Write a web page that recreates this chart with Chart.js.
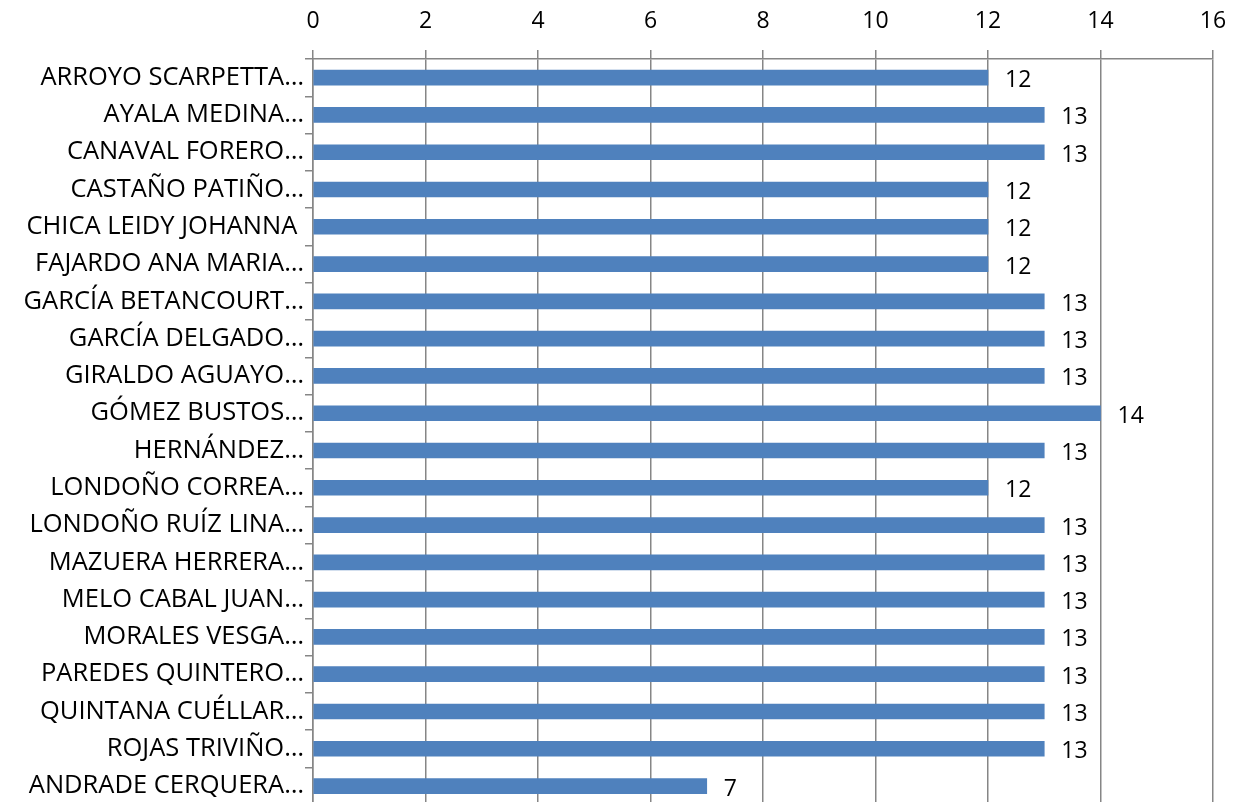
<!DOCTYPE html>
<html>
<head>
<meta charset="utf-8">
<script src="https://cdn.jsdelivr.net/npm/chart.js@4/dist/chart.umd.min.js"></script>
<style>
  html, body { margin: 0; padding: 0; background: #fff; overflow: hidden; }
  #wrap { position: relative; width: 1235px; height: 821px; }
</style>
</head>
<body>
<div id="wrap"><canvas id="chart"></canvas></div>
<script>
// names as shown (truncated like the original)
const names = [
  "ARROYO SCARPETTA…", "AYALA MEDINA…", "CANAVAL FORERO…", "CASTAÑO PATIÑO…",
  "CHICA LEIDY JOHANNA ", "FAJARDO ANA MARIA…", "GARCÍA BETANCOURT…", "GARCÍA DELGADO…",
  "GIRALDO AGUAYO…", "GÓMEZ BUSTOS…", "HERNÁNDEZ…", "LONDOÑO CORREA…",
  "LONDOÑO RUÍZ LINA…", "MAZUERA HERRERA…", "MELO CABAL JUAN…", "MORALES VESGA…",
  "PAREDES QUINTERO…", "QUINTANA CUÉLLAR…", "ROJAS TRIVIÑO…", "ANDRADE CERQUERA…"
];
const scores = [12, 13, 13, 12, 12, 12, 13, 13, 13, 14, 13, 12, 13, 13, 13, 13, 13, 13, 13, 7];
const xTicks = [0, 2, 4, 6, 8, 10, 12, 14, 16];

const FONT = "'Open Sans', sans-serif";
const gridGray = "#868686";

// value labels at the end of each bar
const valueLabels = {
  id: "valueLabels",
  afterDatasetsDraw(chart) {
    const ctx = chart.ctx;
    const meta = chart.getDatasetMeta(0);
    ctx.save();
    ctx.font = "23px " + FONT;
    ctx.fillStyle = "#000";
    ctx.textAlign = "left";
    ctx.textBaseline = "middle";
    meta.data.forEach((bar, i) => {
      ctx.fillText(String(scores[i]), bar.x + 17, bar.y + 3);
    });
    ctx.restore();
  }
};

new Chart(document.getElementById("chart"), {
  type: "bar",
  data: {
    labels: names,
    datasets: [{
      data: scores,
      backgroundColor: "#4F81BD",
      borderWidth: 0,
      barThickness: 15
    }]
  },
  plugins: [valueLabels],
  options: {
    indexAxis: "y",
    responsive: true,
    maintainAspectRatio: false,
    animation: false,
    layout: { padding: { left: 0, right: 22, top: 0, bottom: 0 } },
    plugins: {
      legend: { display: false },
      tooltip: { enabled: false }
    },
    scales: {
      x: {
        position: "top",
        min: 0,
        max: 16,
        afterBuildTicks: scale => { scale.ticks = xTicks.map(v => ({ value: v })); },
        afterFit: scale => {
          scale.height = 59;
          scale.paddingLeft = 0;
          scale.paddingRight = 0;
        },
        grid: {
          color: gridGray,
          lineWidth: 1.5,
          tickLength: 9,
          drawOnChartArea: true
        },
        border: { color: gridGray, width: 1.5 },
        ticks: {
          color: "#000",
          font: { family: FONT, size: 23 },
          padding: 15,
          maxRotation: 0
        }
      },
      y: {
        afterFit: scale => { scale.width = 313; },
        grid: {
          offset: true,
          color: gridGray,
          lineWidth: 1.5,
          tickLength: 8,
          drawOnChartArea: false
        },
        border: { color: gridGray, width: 1.5 },
        ticks: {
          color: "#000",
          font: { family: FONT, size: 25.5 },
          padding: 1,
          autoSkip: false
        }
      }
    }
  }
});
</script>
</body>
</html>
